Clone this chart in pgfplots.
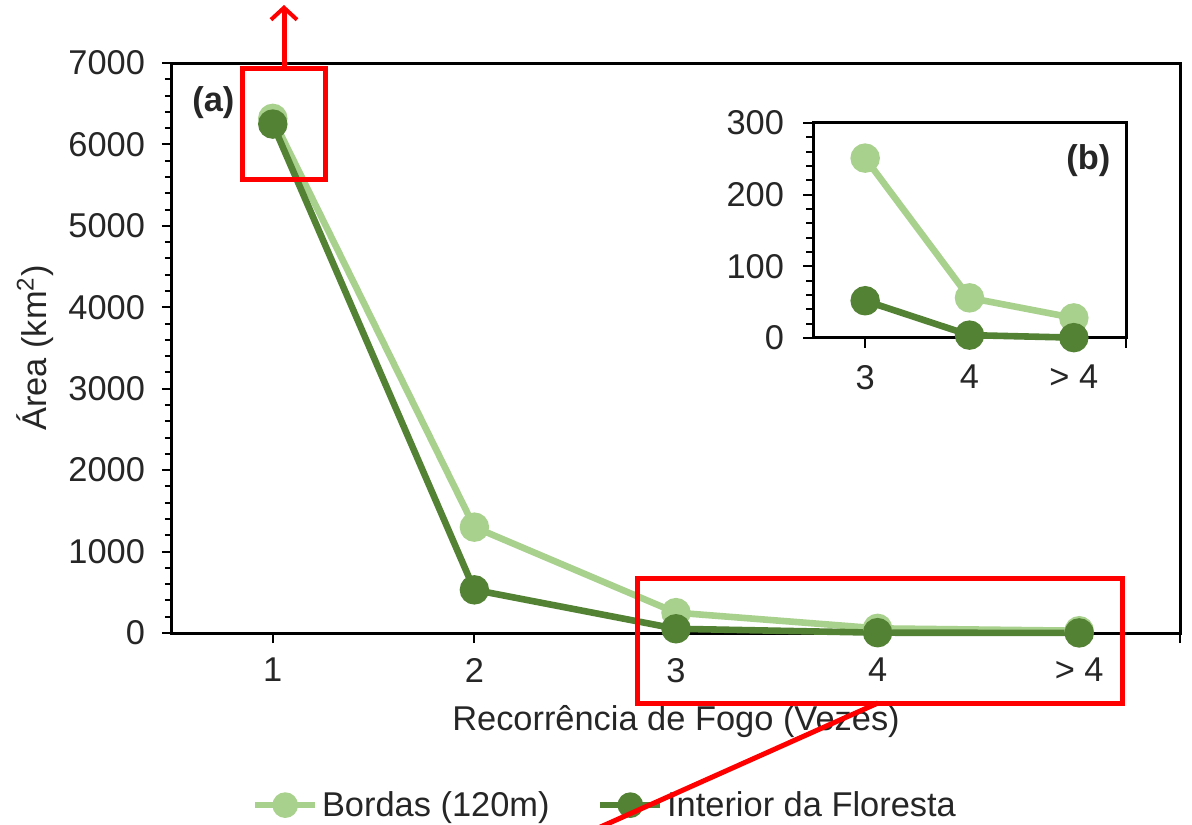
\documentclass[border=0pt]{standalone}
\usepackage{fontspec}
\setmainfont{Liberation Sans}
\usepackage{pgfplots}
\pgfplotsset{compat=1.18}
\usetikzlibrary{arrows.meta}

\definecolor{borda}{HTML}{A9D18E}
\definecolor{interior}{HTML}{548235}
\definecolor{anot}{HTML}{FF0000}

\newcommand{\chartfont}{\fontsize{17.2}{20}\selectfont}

\pgfplotsset{
  fogo/.style={
    scale only axis, clip=false,
    axis line style={line width=1.5pt, black},
    tick style={line width=1pt, black},
    major tick length=5pt, minor tick length=3.5pt,
    tick align=outside, xtick pos=bottom, ytick pos=left,
    tick label style={font=\chartfont, text=black!85},
    label style={font=\chartfont, text=black!85},
    /pgf/number format/assume math mode=true,
    /pgf/number format/1000 sep={},
    axis background/.style={fill=white},
  },
  serie/.style={line width=3.3pt, mark=*, mark size=5.7pt, mark options={solid}},
}

\begin{document}
\begin{tikzpicture}
\useasboundingbox (-86pt,-95.5pt) rectangle (510pt,316.5pt);
\clip (-86pt,-95.5pt) rectangle (510pt,316.5pt);

% grafico principal (a)
\begin{axis}[fogo,
    at={(0pt,0pt)}, anchor=south west,
    width=504pt, height=285pt,
    xmin=0.5, xmax=5.5, ymin=0, ymax=7000,
    xtick={1,2,3,4,5}, xticklabels={1,2,3,4,{> 4}},
    extra x ticks={5.5}, extra x tick labels={},
    ytick distance=1000, minor y tick num=4,
    yticklabel style={xshift=-5pt},
    xticklabel style={yshift=-4pt},
    xlabel={Recorrência de Fogo (Vezes)},
    ylabel={Área (km\textsuperscript{2})},
    xlabel style={at={(axis description cs:0.5,-0.156)}, anchor=center},
    ylabel style={at={(axis description cs:-0.136,0.5)}, anchor=center},
    legend columns=2,
    legend cell align=left,
    legend style={at={(axis description cs:0.0794,-0.302)}, anchor=west,
      draw=none, fill=none, inner sep=0pt, font=\chartfont, text=black!85,
      nodes={inner xsep=2pt},
      /tikz/every even column/.append style={column sep=22pt}},
    legend image code/.code={
      \draw[mark repeat=2, mark phase=2, #1, line width=2.8pt, mark size=5pt]
        plot coordinates {(0pt,0pt) (15pt,0pt) (30pt,0pt)};
    },
  ]
  \addplot[serie, color=borda] coordinates {
    (1,6320) (2,1300) (3,250) (4,57) (5,28)
  };
  \addlegendentry{Bordas (120m)}
  \addplot[serie, color=interior] coordinates {
    (1,6250) (2,530) (3,52) (4,4) (5,1)
  };
  \addlegendentry{Interior da Floresta}
  \node[font=\bfseries\chartfont, text=black!85] at (axis description cs:0.041,0.93) {(a)};
\end{axis}

% detalhe (b)
\begin{axis}[fogo,
    at={(320.5pt,147.5pt)}, anchor=south west,
    width=156.5pt, height=107.5pt,
    xmin=2.5, xmax=5.5, ymin=0, ymax=300,
    xtick={3,4,5}, xticklabels={3,4,{> 4}},
    extra x ticks={5.5}, extra x tick labels={},
    ytick={0,100,200,300}, minor y tick num=4,
    yticklabel style={xshift=-6pt},
    xticklabel style={yshift=-5pt},
  ]
  \addplot[serie, color=borda] coordinates {
    (3,251) (4,56) (5,28)
  };
  \addplot[serie, color=interior] coordinates {
    (3,52) (4,4) (5,0.5)
  };
  \node[font=\bfseries\chartfont, text=black!85] at (axis description cs:0.88,0.825) {(b)};
\end{axis}

% marcacoes em vermelho
\draw[anot, line width=2.5pt] (35pt,226.5pt) rectangle (76.5pt,282pt);
\draw[anot, line width=2.5pt, -{Straight Barb[length=6pt,width=13pt,line width=2pt]}]
  (56pt,282pt) -- (56pt,314pt);
\draw[anot, line width=2.5pt] (232.5pt,-35pt) rectangle (475pt,27.5pt);
\draw[anot, line width=2.5pt] (353pt,-35pt) -- (203pt,-102pt);
\end{tikzpicture}
\end{document}
